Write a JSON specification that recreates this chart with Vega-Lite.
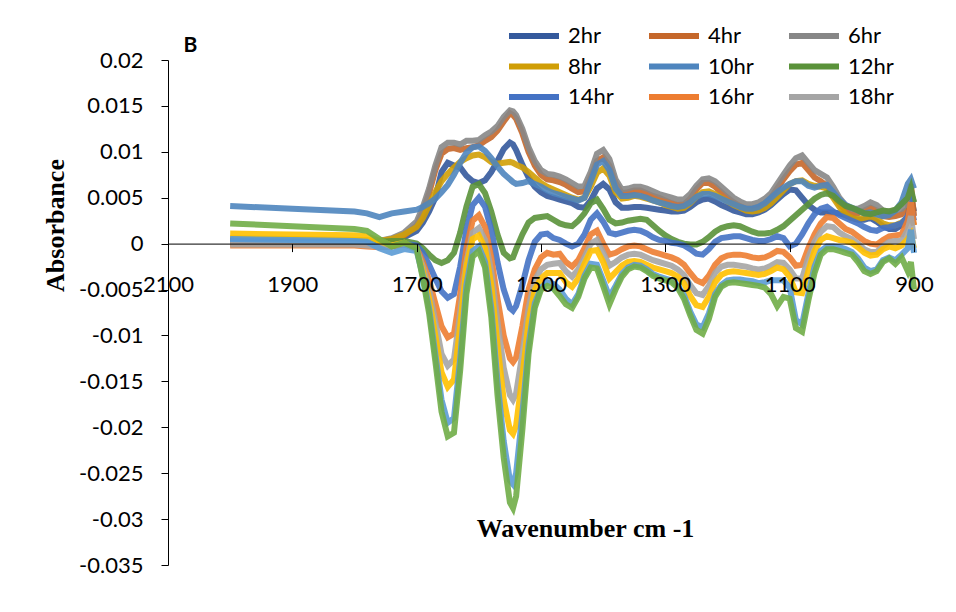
{
  "$schema": "https://vega.github.io/schema/vega-lite/v6.json",
  "width": 746,
  "height": 505,
  "autosize": {"type": "none"},
  "padding": {"left": 168, "top": 60, "right": 42, "bottom": 47},
  "background": "white",
  "config": {"view": {"stroke": null}, "font": "Lato"},
  "layer": [
    {
      "data": {"values": [
        {"w":2000,"2hr":0.0002,"4hr":0,"6hr":0.0004,"8hr":0.0006,"10hr":0.0041,"12hr":0.0002,"14hr":0.0003,"16hr":-0.0002,"18hr":-0.0001,"20hr":0.0011,"22hr":0.0005,"24hr":0.0022},
        {"w":1900,"2hr":0.0001,"4hr":0,"6hr":0.0003,"8hr":0.0005,"10hr":0.0038,"12hr":0.0001,"14hr":0.0002,"16hr":-0.0002,"18hr":-0.0001,"20hr":0.001,"22hr":0.0004,"24hr":0.0019},
        {"w":1800,"2hr":0,"4hr":-0.0001,"6hr":0.0002,"8hr":0.0004,"10hr":0.0035,"12hr":0.0001,"14hr":0.0001,"16hr":-0.0002,"18hr":-0.0001,"20hr":0.0009,"22hr":0.0003,"24hr":0.0016},
        {"w":1780,"2hr":0,"4hr":-0.0001,"6hr":0.0002,"8hr":0.0004,"10hr":0.0033,"12hr":0.0001,"14hr":0,"16hr":-0.0003,"18hr":-0.0002,"20hr":0.0008,"22hr":0.0002,"24hr":0.0014},
        {"w":1760,"2hr":0.0001,"4hr":0,"6hr":0.0003,"8hr":0.0003,"10hr":0.0029,"12hr":0.0002,"14hr":-0.0003,"16hr":-0.0004,"18hr":-0.0003,"20hr":0.0003,"22hr":-0.0005,"24hr":0.0005},
        {"w":1740,"2hr":0.0003,"4hr":0.0003,"6hr":0.0006,"8hr":0.0005,"10hr":0.0033,"12hr":0.0003,"14hr":-0.0003,"16hr":-0.0003,"18hr":-0.0002,"20hr":-0.0002,"22hr":-0.001,"24hr":-0.0003},
        {"w":1720,"2hr":0.0007,"4hr":0.0009,"6hr":0.0012,"8hr":0.001,"10hr":0.0035,"12hr":0.0003,"14hr":0,"16hr":-0.0001,"18hr":0,"20hr":0.0001,"22hr":-0.0006,"24hr":0.0001},
        {"w":1700,"2hr":0.0014,"4hr":0.002,"6hr":0.0024,"8hr":0.0018,"10hr":0.0037,"12hr":0,"14hr":-0.0002,"16hr":-0.0005,"18hr":-0.0006,"20hr":-0.0007,"22hr":-0.0008,"24hr":-0.0005},
        {"w":1690,"2hr":0.0023,"4hr":0.0035,"6hr":0.004,"8hr":0.0028,"10hr":0.004,"12hr":-0.0005,"14hr":-0.001,"16hr":-0.002,"18hr":-0.0025,"20hr":-0.003,"22hr":-0.0035,"24hr":-0.0038},
        {"w":1680,"2hr":0.0035,"4hr":0.0055,"6hr":0.006,"8hr":0.0042,"10hr":0.0044,"12hr":-0.0012,"14hr":-0.0023,"16hr":-0.004,"18hr":-0.005,"20hr":-0.006,"22hr":-0.007,"24hr":-0.0076},
        {"w":1670,"2hr":0.005,"4hr":0.008,"6hr":0.0085,"8hr":0.0056,"10hr":0.0049,"12hr":-0.0018,"14hr":-0.0038,"16hr":-0.0065,"18hr":-0.0085,"20hr":-0.01,"22hr":-0.012,"24hr":-0.0128},
        {"w":1660,"2hr":0.0078,"4hr":0.0098,"6hr":0.0105,"8hr":0.0068,"10hr":0.0056,"12hr":-0.0021,"14hr":-0.0052,"16hr":-0.009,"18hr":-0.012,"20hr":-0.014,"22hr":-0.017,"24hr":-0.0183},
        {"w":1650,"2hr":0.0088,"4hr":0.0103,"6hr":0.011,"8hr":0.0076,"10hr":0.0064,"12hr":-0.0018,"14hr":-0.0059,"16hr":-0.0102,"18hr":-0.0133,"20hr":-0.0156,"22hr":-0.0195,"24hr":-0.021},
        {"w":1640,"2hr":0.0085,"4hr":0.0104,"6hr":0.011,"8hr":0.0083,"10hr":0.0075,"12hr":-0.001,"14hr":-0.0055,"16hr":-0.0098,"18hr":-0.0126,"20hr":-0.0148,"22hr":-0.019,"24hr":-0.0206},
        {"w":1630,"2hr":0.0083,"4hr":0.0102,"6hr":0.0108,"8hr":0.0089,"10hr":0.0088,"12hr":0.0012,"14hr":-0.0025,"16hr":-0.0055,"18hr":-0.0075,"20hr":-0.009,"22hr":-0.0125,"24hr":-0.0138},
        {"w":1620,"2hr":0.0074,"4hr":0.0104,"6hr":0.0112,"8hr":0.0093,"10hr":0.0099,"12hr":0.004,"14hr":0.0015,"16hr":-0.0005,"18hr":-0.002,"20hr":-0.0025,"22hr":-0.0045,"24hr":-0.0055},
        {"w":1610,"2hr":0.0068,"4hr":0.0105,"6hr":0.0112,"8hr":0.0096,"10hr":0.0105,"12hr":0.0062,"14hr":0.0042,"16hr":0.0025,"18hr":0.0012,"20hr":0.0005,"22hr":-0.0008,"24hr":-0.0014},
        {"w":1600,"2hr":0.0066,"4hr":0.0107,"6hr":0.0113,"8hr":0.0097,"10hr":0.0106,"12hr":0.0065,"14hr":0.005,"16hr":0.0031,"18hr":0.0017,"20hr":0.0009,"22hr":-0.0003,"24hr":-0.0008},
        {"w":1590,"2hr":0.0069,"4hr":0.0112,"6hr":0.0118,"8hr":0.0094,"10hr":0.0101,"12hr":0.0055,"14hr":0.004,"16hr":0.0018,"18hr":0.0004,"20hr":-0.0005,"22hr":-0.002,"24hr":-0.0026},
        {"w":1580,"2hr":0.0078,"4hr":0.0116,"6hr":0.0122,"8hr":0.0089,"10hr":0.0093,"12hr":0.0035,"14hr":0.0015,"16hr":-0.0015,"18hr":-0.003,"20hr":-0.0045,"22hr":-0.007,"24hr":-0.008},
        {"w":1570,"2hr":0.009,"4hr":0.0123,"6hr":0.0128,"8hr":0.0087,"10hr":0.0084,"12hr":0.001,"14hr":-0.002,"16hr":-0.006,"18hr":-0.0085,"20hr":-0.011,"22hr":-0.015,"24hr":-0.0165},
        {"w":1560,"2hr":0.0103,"4hr":0.0133,"6hr":0.0138,"8hr":0.0088,"10hr":0.0076,"12hr":-0.001,"14hr":-0.005,"16hr":-0.01,"18hr":-0.0135,"20hr":-0.017,"22hr":-0.0215,"24hr":-0.0233},
        {"w":1550,"2hr":0.011,"4hr":0.0142,"6hr":0.0145,"8hr":0.0089,"10hr":0.007,"12hr":-0.0016,"14hr":-0.007,"16hr":-0.0125,"18hr":-0.0165,"20hr":-0.0203,"22hr":-0.0258,"24hr":-0.0282},
        {"w":1545,"2hr":0.0108,"4hr":0.014,"6hr":0.0144,"8hr":0.0088,"10hr":0.0067,"12hr":-0.0015,"14hr":-0.0073,"16hr":-0.0129,"18hr":-0.017,"20hr":-0.0207,"22hr":-0.0262,"24hr":-0.0288},
        {"w":1540,"2hr":0.0102,"4hr":0.0136,"6hr":0.014,"8hr":0.0086,"10hr":0.0065,"12hr":-0.0006,"14hr":-0.0068,"16hr":-0.0124,"18hr":-0.0163,"20hr":-0.0198,"22hr":-0.025,"24hr":-0.0275},
        {"w":1530,"2hr":0.0086,"4hr":0.012,"6hr":0.0125,"8hr":0.0083,"10hr":0.0066,"12hr":0.001,"14hr":-0.0045,"16hr":-0.009,"18hr":-0.012,"20hr":-0.0145,"22hr":-0.0185,"24hr":-0.0203},
        {"w":1520,"2hr":0.0072,"4hr":0.01,"6hr":0.0105,"8hr":0.0078,"10hr":0.0068,"12hr":0.0023,"14hr":-0.0018,"16hr":-0.005,"18hr":-0.007,"20hr":-0.0085,"22hr":-0.011,"24hr":-0.012},
        {"w":1510,"2hr":0.0062,"4hr":0.0085,"6hr":0.009,"8hr":0.0072,"10hr":0.0065,"12hr":0.0028,"14hr":0.0002,"16hr":-0.0028,"18hr":-0.004,"20hr":-0.005,"22hr":-0.0065,"24hr":-0.007},
        {"w":1500,"2hr":0.0056,"4hr":0.0075,"6hr":0.008,"8hr":0.0066,"10hr":0.0062,"12hr":0.0029,"14hr":0.001,"16hr":-0.0015,"18hr":-0.0028,"20hr":-0.0038,"22hr":-0.0048,"24hr":-0.005},
        {"w":1490,"2hr":0.0052,"4hr":0.007,"6hr":0.0076,"8hr":0.0062,"10hr":0.0058,"12hr":0.003,"14hr":0.0011,"16hr":-0.001,"18hr":-0.0023,"20hr":-0.0032,"22hr":-0.0042,"24hr":-0.0046},
        {"w":1480,"2hr":0.005,"4hr":0.0069,"6hr":0.0075,"8hr":0.0059,"10hr":0.0055,"12hr":0.0026,"14hr":0.0006,"16hr":-0.0012,"18hr":-0.0022,"20hr":-0.0032,"22hr":-0.0044,"24hr":-0.0049},
        {"w":1470,"2hr":0.0048,"4hr":0.0067,"6hr":0.0073,"8hr":0.0056,"10hr":0.0053,"12hr":0.0022,"14hr":0.0004,"16hr":-0.0011,"18hr":-0.0021,"20hr":-0.0032,"22hr":-0.005,"24hr":-0.0057},
        {"w":1460,"2hr":0.0046,"4hr":0.0064,"6hr":0.007,"8hr":0.0053,"10hr":0.0051,"12hr":0.002,"14hr":0,"16hr":-0.002,"18hr":-0.003,"20hr":-0.0042,"22hr":-0.006,"24hr":-0.0066},
        {"w":1450,"2hr":0.0044,"4hr":0.006,"6hr":0.0066,"8hr":0.005,"10hr":0.0049,"12hr":0.0019,"14hr":-0.0003,"16hr":-0.0025,"18hr":-0.0036,"20hr":-0.0047,"22hr":-0.0066,"24hr":-0.007},
        {"w":1440,"2hr":0.004,"4hr":0.0056,"6hr":0.0062,"8hr":0.0048,"10hr":0.0047,"12hr":0.0025,"14hr":0,"16hr":-0.0018,"18hr":-0.0028,"20hr":-0.0038,"22hr":-0.0055,"24hr":-0.0058},
        {"w":1430,"2hr":0.0039,"4hr":0.0057,"6hr":0.0063,"8hr":0.005,"10hr":0.005,"12hr":0.0033,"14hr":0.001,"16hr":-0.0005,"18hr":-0.0015,"20hr":-0.0022,"22hr":-0.0035,"24hr":-0.0038},
        {"w":1420,"2hr":0.0047,"4hr":0.0072,"6hr":0.0078,"8hr":0.0062,"10hr":0.0068,"12hr":0.0044,"14hr":0.0026,"16hr":0.001,"18hr":0,"20hr":-0.0008,"22hr":-0.0022,"24hr":-0.0026},
        {"w":1410,"2hr":0.006,"4hr":0.009,"6hr":0.0098,"8hr":0.0077,"10hr":0.0086,"12hr":0.0048,"14hr":0.0033,"16hr":0.0014,"18hr":0.0004,"20hr":-0.0007,"22hr":-0.0023,"24hr":-0.0027},
        {"w":1400,"2hr":0.0065,"4hr":0.0094,"6hr":0.0102,"8hr":0.0082,"10hr":0.009,"12hr":0.0038,"14hr":0.0024,"16hr":0,"18hr":-0.001,"20hr":-0.002,"22hr":-0.004,"24hr":-0.0046},
        {"w":1390,"2hr":0.0059,"4hr":0.0085,"6hr":0.0092,"8hr":0.0074,"10hr":0.008,"12hr":0.0026,"14hr":0.0012,"16hr":-0.0012,"18hr":-0.0024,"20hr":-0.0038,"22hr":-0.0058,"24hr":-0.0066},
        {"w":1380,"2hr":0.0045,"4hr":0.0066,"6hr":0.007,"8hr":0.0056,"10hr":0.006,"12hr":0.0022,"14hr":0.001,"16hr":-0.001,"18hr":-0.002,"20hr":-0.0031,"22hr":-0.0046,"24hr":-0.005},
        {"w":1370,"2hr":0.0039,"4hr":0.0055,"6hr":0.0059,"8hr":0.0049,"10hr":0.0052,"12hr":0.0023,"14hr":0.0012,"16hr":-0.0006,"18hr":-0.0015,"20hr":-0.0024,"22hr":-0.0033,"24hr":-0.0036},
        {"w":1360,"2hr":0.0039,"4hr":0.0056,"6hr":0.006,"8hr":0.005,"10hr":0.0052,"12hr":0.0025,"14hr":0.0014,"16hr":-0.0003,"18hr":-0.0012,"20hr":-0.002,"22hr":-0.0026,"24hr":-0.0028},
        {"w":1350,"2hr":0.004,"4hr":0.0058,"6hr":0.0062,"8hr":0.0052,"10hr":0.0053,"12hr":0.0026,"14hr":0.0015,"16hr":-0.0002,"18hr":-0.0011,"20hr":-0.0019,"22hr":-0.0023,"24hr":-0.0025},
        {"w":1340,"2hr":0.004,"4hr":0.0058,"6hr":0.0062,"8hr":0.0051,"10hr":0.0052,"12hr":0.0027,"14hr":0.0014,"16hr":-0.0003,"18hr":-0.0012,"20hr":-0.002,"22hr":-0.0024,"24hr":-0.0026},
        {"w":1330,"2hr":0.0039,"4hr":0.0055,"6hr":0.006,"8hr":0.0049,"10hr":0.005,"12hr":0.0026,"14hr":0.0011,"16hr":-0.0006,"18hr":-0.0015,"20hr":-0.0023,"22hr":-0.0028,"24hr":-0.003},
        {"w":1320,"2hr":0.0038,"4hr":0.0052,"6hr":0.0057,"8hr":0.0047,"10hr":0.0047,"12hr":0.002,"14hr":0.0007,"16hr":-0.0009,"18hr":-0.0018,"20hr":-0.0026,"22hr":-0.0033,"24hr":-0.0035},
        {"w":1310,"2hr":0.0037,"4hr":0.005,"6hr":0.0054,"8hr":0.0045,"10hr":0.0045,"12hr":0.0014,"14hr":0.0004,"16hr":-0.0011,"18hr":-0.002,"20hr":-0.0028,"22hr":-0.0036,"24hr":-0.0038},
        {"w":1300,"2hr":0.0036,"4hr":0.0047,"6hr":0.0052,"8hr":0.0042,"10hr":0.0043,"12hr":0.0009,"14hr":0.0003,"16hr":-0.0013,"18hr":-0.0022,"20hr":-0.003,"22hr":-0.0038,"24hr":-0.004},
        {"w":1290,"2hr":0.0035,"4hr":0.0044,"6hr":0.005,"8hr":0.004,"10hr":0.0041,"12hr":0.0005,"14hr":0.0001,"16hr":-0.0015,"18hr":-0.0024,"20hr":-0.0032,"22hr":-0.004,"24hr":-0.0042},
        {"w":1280,"2hr":0.0035,"4hr":0.0042,"6hr":0.0048,"8hr":0.0038,"10hr":0.004,"12hr":0.0002,"14hr":0,"16hr":-0.0018,"18hr":-0.0028,"20hr":-0.0036,"22hr":-0.0046,"24hr":-0.0048},
        {"w":1270,"2hr":0.0036,"4hr":0.0043,"6hr":0.0048,"8hr":0.0039,"10hr":0.0041,"12hr":0,"14hr":-0.0002,"16hr":-0.0023,"18hr":-0.0034,"20hr":-0.0043,"22hr":-0.0056,"24hr":-0.006},
        {"w":1260,"2hr":0.004,"4hr":0.0049,"6hr":0.0054,"8hr":0.0044,"10hr":0.0045,"12hr":-0.0001,"14hr":-0.0006,"16hr":-0.0032,"18hr":-0.0045,"20hr":-0.0057,"22hr":-0.0074,"24hr":-0.0078},
        {"w":1250,"2hr":0.0045,"4hr":0.0059,"6hr":0.0063,"8hr":0.0051,"10hr":0.0051,"12hr":-0.0001,"14hr":-0.0011,"16hr":-0.004,"18hr":-0.0054,"20hr":-0.0067,"22hr":-0.0088,"24hr":-0.0094},
        {"w":1240,"2hr":0.0048,"4hr":0.0066,"6hr":0.007,"8hr":0.0056,"10hr":0.0054,"12hr":0.0002,"14hr":-0.0012,"16hr":-0.0043,"18hr":-0.0056,"20hr":-0.0069,"22hr":-0.0091,"24hr":-0.0098},
        {"w":1230,"2hr":0.0049,"4hr":0.0066,"6hr":0.0071,"8hr":0.0057,"10hr":0.0054,"12hr":0.0007,"14hr":-0.0006,"16hr":-0.0035,"18hr":-0.0046,"20hr":-0.0058,"22hr":-0.0076,"24hr":-0.0082},
        {"w":1220,"2hr":0.0046,"4hr":0.0062,"6hr":0.0068,"8hr":0.0054,"10hr":0.0052,"12hr":0.0013,"14hr":0.0002,"16hr":-0.0023,"18hr":-0.0032,"20hr":-0.0042,"22hr":-0.0055,"24hr":-0.0058},
        {"w":1210,"2hr":0.0042,"4hr":0.0056,"6hr":0.0062,"8hr":0.005,"10hr":0.0049,"12hr":0.0017,"14hr":0.0006,"16hr":-0.0016,"18hr":-0.0025,"20hr":-0.0034,"22hr":-0.0045,"24hr":-0.0047},
        {"w":1200,"2hr":0.0039,"4hr":0.005,"6hr":0.0056,"8hr":0.0046,"10hr":0.0046,"12hr":0.0019,"14hr":0.0007,"16hr":-0.0013,"18hr":-0.0023,"20hr":-0.0031,"22hr":-0.004,"24hr":-0.0043},
        {"w":1190,"2hr":0.0036,"4hr":0.0045,"6hr":0.005,"8hr":0.0042,"10hr":0.0043,"12hr":0.002,"14hr":0.0008,"16hr":-0.0012,"18hr":-0.0023,"20hr":-0.003,"22hr":-0.0039,"24hr":-0.0042},
        {"w":1180,"2hr":0.0034,"4hr":0.0041,"6hr":0.0046,"8hr":0.0039,"10hr":0.004,"12hr":0.0019,"14hr":0.0008,"16hr":-0.0012,"18hr":-0.0024,"20hr":-0.0031,"22hr":-0.0039,"24hr":-0.0043},
        {"w":1170,"2hr":0.0032,"4hr":0.0038,"6hr":0.0043,"8hr":0.0036,"10hr":0.0038,"12hr":0.0016,"14hr":0.0006,"16hr":-0.0013,"18hr":-0.0025,"20hr":-0.0032,"22hr":-0.004,"24hr":-0.0044},
        {"w":1160,"2hr":0.0032,"4hr":0.0038,"6hr":0.0043,"8hr":0.0035,"10hr":0.0038,"12hr":0.0013,"14hr":0.0004,"16hr":-0.0015,"18hr":-0.0027,"20hr":-0.0033,"22hr":-0.0041,"24hr":-0.0045},
        {"w":1150,"2hr":0.0034,"4hr":0.004,"6hr":0.0045,"8hr":0.0036,"10hr":0.004,"12hr":0.0011,"14hr":0.0003,"16hr":-0.0016,"18hr":-0.0028,"20hr":-0.0034,"22hr":-0.0043,"24hr":-0.0046},
        {"w":1140,"2hr":0.0037,"4hr":0.0044,"6hr":0.0049,"8hr":0.0039,"10hr":0.0044,"12hr":0.0011,"14hr":0.0003,"16hr":-0.0015,"18hr":-0.0027,"20hr":-0.0033,"22hr":-0.0042,"24hr":-0.0048},
        {"w":1130,"2hr":0.0042,"4hr":0.005,"6hr":0.0055,"8hr":0.0044,"10hr":0.005,"12hr":0.0012,"14hr":0.0005,"16hr":-0.0012,"18hr":-0.0024,"20hr":-0.003,"22hr":-0.004,"24hr":-0.0055},
        {"w":1120,"2hr":0.0048,"4hr":0.006,"6hr":0.0065,"8hr":0.0051,"10hr":0.0056,"12hr":0.0015,"14hr":0.0008,"16hr":-0.0008,"18hr":-0.002,"20hr":-0.0026,"22hr":-0.004,"24hr":-0.0068},
        {"w":1110,"2hr":0.0054,"4hr":0.007,"6hr":0.0075,"8hr":0.0058,"10hr":0.0061,"12hr":0.0019,"14hr":0.0006,"16hr":-0.0009,"18hr":-0.0021,"20hr":-0.0028,"22hr":-0.004,"24hr":-0.0058},
        {"w":1100,"2hr":0.0059,"4hr":0.0079,"6hr":0.0085,"8hr":0.0065,"10hr":0.0065,"12hr":0.0025,"14hr":-0.0003,"16hr":-0.0015,"18hr":-0.0028,"20hr":-0.0036,"22hr":-0.0048,"24hr":-0.006},
        {"w":1090,"2hr":0.0058,"4hr":0.0086,"6hr":0.0093,"8hr":0.0068,"10hr":0.0068,"12hr":0.0031,"14hr":0,"16hr":-0.0024,"18hr":-0.0038,"20hr":-0.0053,"22hr":-0.0083,"24hr":-0.0092},
        {"w":1080,"2hr":0.005,"4hr":0.0088,"6hr":0.0096,"8hr":0.0069,"10hr":0.0068,"12hr":0.0037,"14hr":0.001,"16hr":-0.0023,"18hr":-0.0038,"20hr":-0.0054,"22hr":-0.0088,"24hr":-0.0096},
        {"w":1070,"2hr":0.0042,"4hr":0.008,"6hr":0.0088,"8hr":0.0065,"10hr":0.0063,"12hr":0.0043,"14hr":0.0022,"16hr":-0.0005,"18hr":-0.0015,"20hr":-0.003,"22hr":-0.0055,"24hr":-0.0062},
        {"w":1060,"2hr":0.0037,"4hr":0.0072,"6hr":0.008,"8hr":0.0063,"10hr":0.0061,"12hr":0.0049,"14hr":0.0032,"16hr":0.001,"18hr":0.0002,"20hr":-0.0008,"22hr":-0.0025,"24hr":-0.0032},
        {"w":1050,"2hr":0.0034,"4hr":0.0068,"6hr":0.0076,"8hr":0.0062,"10hr":0.0063,"12hr":0.0053,"14hr":0.0038,"16hr":0.0022,"18hr":0.0013,"20hr":0.0004,"22hr":-0.0008,"24hr":-0.0012},
        {"w":1040,"2hr":0.0034,"4hr":0.0063,"6hr":0.0072,"8hr":0.006,"10hr":0.0064,"12hr":0.0055,"14hr":0.004,"16hr":0.0029,"18hr":0.0019,"20hr":0.0008,"22hr":-0.0003,"24hr":-0.0006},
        {"w":1030,"2hr":0.0034,"4hr":0.0053,"6hr":0.0062,"8hr":0.005,"10hr":0.0056,"12hr":0.0052,"14hr":0.0035,"16hr":0.0028,"18hr":0.0018,"20hr":0.0006,"22hr":-0.0003,"24hr":-0.0006},
        {"w":1020,"2hr":0.0033,"4hr":0.0043,"6hr":0.005,"8hr":0.004,"10hr":0.0048,"12hr":0.0046,"14hr":0.0031,"16hr":0.0022,"18hr":0.0012,"20hr":0.0004,"22hr":-0.0004,"24hr":-0.0008},
        {"w":1010,"2hr":0.0031,"4hr":0.0036,"6hr":0.0042,"8hr":0.0032,"10hr":0.0042,"12hr":0.0041,"14hr":0.0028,"16hr":0.0016,"18hr":0.0008,"20hr":0.0003,"22hr":-0.0006,"24hr":-0.001},
        {"w":1000,"2hr":0.0028,"4hr":0.0033,"6hr":0.0038,"8hr":0.0028,"10hr":0.0039,"12hr":0.0039,"14hr":0.0025,"16hr":0.0013,"18hr":0.0005,"20hr":0.0001,"22hr":-0.0009,"24hr":-0.0012},
        {"w":990,"2hr":0.0026,"4hr":0.0033,"6hr":0.0038,"8hr":0.0027,"10hr":0.0036,"12hr":0.0036,"14hr":0.0022,"16hr":0.0008,"18hr":0,"20hr":-0.0004,"22hr":-0.0016,"24hr":-0.002},
        {"w":980,"2hr":0.0026,"4hr":0.0036,"6hr":0.0041,"8hr":0.0028,"10hr":0.0033,"12hr":0.0033,"14hr":0.0018,"16hr":0.0003,"18hr":-0.0006,"20hr":-0.001,"22hr":-0.0026,"24hr":-0.003},
        {"w":970,"2hr":0.0028,"4hr":0.0039,"6hr":0.0045,"8hr":0.003,"10hr":0.0034,"12hr":0.0032,"14hr":0.0015,"16hr":0,"18hr":-0.0009,"20hr":-0.0013,"22hr":-0.003,"24hr":-0.0033},
        {"w":960,"2hr":0.0024,"4hr":0.0036,"6hr":0.0042,"8hr":0.0027,"10hr":0.0032,"12hr":0.0034,"14hr":0.0014,"16hr":-0.0001,"18hr":-0.0009,"20hr":-0.0012,"22hr":-0.0028,"24hr":-0.003},
        {"w":950,"2hr":0.0019,"4hr":0.003,"6hr":0.0036,"8hr":0.0022,"10hr":0.003,"12hr":0.0036,"14hr":0.0017,"16hr":0.0004,"18hr":-0.0003,"20hr":-0.0006,"22hr":-0.0018,"24hr":-0.002},
        {"w":940,"2hr":0.0016,"4hr":0.0029,"6hr":0.0035,"8hr":0.002,"10hr":0.0031,"12hr":0.0035,"14hr":0.0018,"16hr":0.0008,"18hr":0.0002,"20hr":-0.0003,"22hr":-0.0015,"24hr":-0.0016},
        {"w":930,"2hr":0.0016,"4hr":0.003,"6hr":0.0036,"8hr":0.002,"10hr":0.0036,"12hr":0.0037,"14hr":0.002,"16hr":0.0009,"18hr":0.0003,"20hr":-0.0005,"22hr":-0.0018,"24hr":-0.0022},
        {"w":920,"2hr":0.002,"4hr":0.0032,"6hr":0.0038,"8hr":0.0023,"10hr":0.0045,"12hr":0.0043,"14hr":0.0022,"16hr":0.001,"18hr":0.0003,"20hr":-0.0002,"22hr":-0.0012,"24hr":-0.0015},
        {"w":910,"2hr":0.003,"4hr":0.0038,"6hr":0.0045,"8hr":0.0028,"10hr":0.0065,"12hr":0.005,"14hr":0.003,"16hr":0.0025,"18hr":0.0015,"20hr":0.0005,"22hr":-0.0005,"24hr":-0.003},
        {"w":905,"2hr":0.005,"4hr":0.0065,"6hr":0.0055,"8hr":0.003,"10hr":0.007,"12hr":0.006,"14hr":0.004,"16hr":0.0045,"18hr":0.003,"20hr":0.001,"22hr":0.0015,"24hr":-0.002},
        {"w":900,"2hr":0.0035,"4hr":0.003,"6hr":0.0045,"8hr":0.002,"10hr":0.006,"12hr":0.0045,"14hr":0.0025,"16hr":0.002,"18hr":0.0005,"20hr":-0.0005,"22hr":-0.001,"24hr":-0.005}
      ]},
      "transform": [
        {"fold": ["2hr","4hr","6hr","8hr","10hr","12hr","14hr","16hr","18hr","20hr","22hr","24hr"], "as": ["series", "absorbance"]}
      ],
      "mark": {"type": "line", "strokeWidth": 6, "opacity": 0.9},
      "encoding": {
        "x": {
          "field": "w", "type": "quantitative",
          "scale": {"domain": [900, 2100], "reverse": true, "nice": false, "zero": false},
          "axis": {
            "values": [2100, 1900, 1700, 1500, 1300, 1100, 900],
            "format": "d",
            "offset": -321.4,
            "grid": false,
            "zindex": 1,
            "domainColor": "#000000",
            "tickColor": "#000000",
            "tickSize": 8,
            "labelFont": "Lato",
            "labelFontSize": 22,
            "labelColor": "#000000",
            "labelPadding": 23,
            "labelFlush": false,
            "labelOverlap": false,
            "labelBound": false,
            "title": "Wavenumber cm -1",
            "titleFont": "Liberation Serif",
            "titleFontSize": 26,
            "titleFontWeight": "bold",
            "titleColor": "#000000",
            "titleX": 417,
            "titleY": 285,
            "titleAlign": "center",
            "titleBaseline": "middle"
          }
        },
        "y": {
          "field": "absorbance", "type": "quantitative",
          "scale": {"domain": [-0.035, 0.02], "nice": false, "zero": false},
          "axis": {
            "values": [-0.035, -0.03, -0.025, -0.02, -0.015, -0.01, -0.005, 0, 0.005, 0.01, 0.015, 0.02],
            "labelExpr": "'' + datum.value",
            "grid": false,
            "domainColor": "#000000",
            "tickColor": "#000000",
            "tickSize": 7,
            "labelFont": "Lato",
            "labelFontSize": 22,
            "labelColor": "#000000",
            "labelPadding": 18,
            "labelOverlap": false,
            "labelBound": false,
            "labelFlush": false,
            "title": "Absorbance",
            "titleFont": "Liberation Serif",
            "titleFontSize": 26,
            "titleFontWeight": "bold",
            "titleColor": "#000000",
            "titleAngle": -90,
            "titleX": -113,
            "titleY": 165,
            "titleAlign": "center",
            "titleBaseline": "middle"
          }
        },
        "color": {
          "field": "series", "type": "nominal",
          "scale": {
            "domain": ["2hr","4hr","6hr","8hr","10hr","12hr","14hr","16hr","18hr","20hr","22hr","24hr"],
            "range": ["#34599C","#C5672A","#878787","#D09E06","#4E85BE","#5A923A","#4472C4","#ED7D31","#A5A5A5","#FFC000","#5B9BD5","#70AD47"]
          },
          "legend": {
            "values": ["2hr","4hr","6hr","8hr","10hr","12hr","14hr","16hr","18hr"],
            "orient": "none",
            "legendX": 355,
            "legendY": -35,
            "direction": "horizontal",
            "columns": 3,
            "title": null,
            "padding": 0,
            "symbolType": "M-5,0H5",
            "symbolSize": 100,
            "symbolStrokeWidth": 6,
            "symbolOpacity": 1,
            "labelFont": "Lato",
            "labelFontSize": 22,
            "labelColor": "#000000",
            "labelOffset": 23,
            "columnPadding": 23,
            "rowPadding": 6.5
          }
        }
      }
    },
    {
      "data": {"values": [{"label": "B"}]},
      "mark": {"type": "text", "font": "Lato", "fontSize": 21, "fontWeight": "bold", "align": "left", "baseline": "middle", "color": "#000000"},
      "encoding": {
        "x": {"datum": 2075, "type": "quantitative"},
        "y": {"datum": 0.0215, "type": "quantitative"},
        "text": {"field": "label"}
      }
    }
  ]
}
